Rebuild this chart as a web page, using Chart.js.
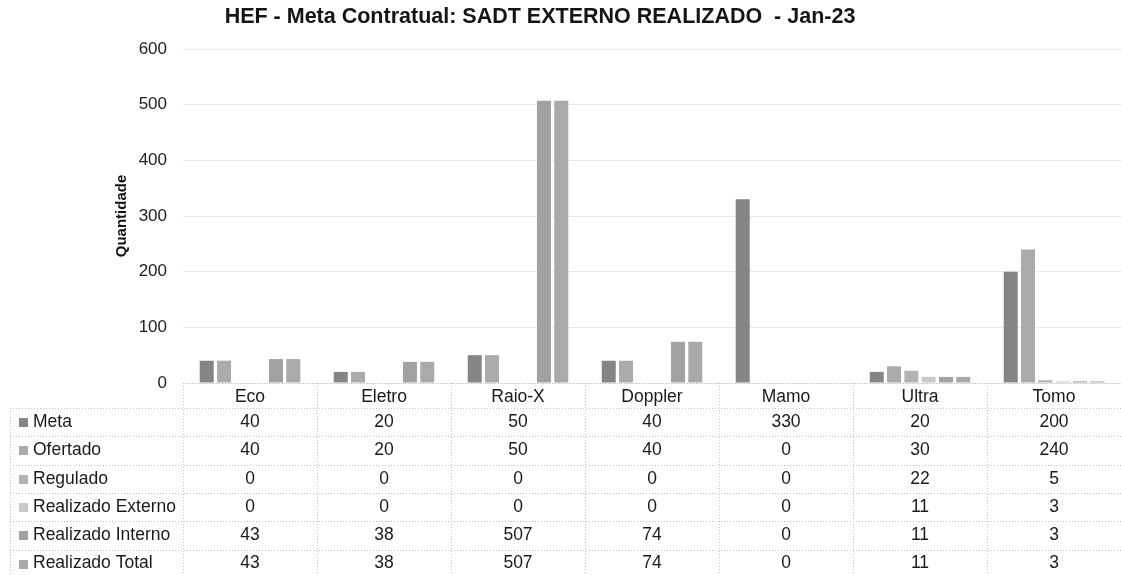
<!DOCTYPE html>
<html>
<head>
<meta charset="utf-8">
<title>HEF - Meta Contratual: SADT EXTERNO REALIZADO</title>
<script src="https://cdn.jsdelivr.net/npm/chart.js@4.4.1/dist/chart.umd.min.js"></script>
<style>
  html, body { margin: 0; padding: 0; background: #fff; }
  #chart { display: block; }
</style>
</head>
<body>
<canvas id="chart" width="1121" height="575"></canvas>
<script>
var categories = ['Eco', 'Eletro', 'Raio-X', 'Doppler', 'Mamo', 'Ultra', 'Tomo'];
var meta             = [40, 20, 50, 40, 330, 20, 200];
var ofertado         = [40, 20, 50, 40, 0, 30, 240];
var regulado         = [0, 0, 0, 0, 0, 22, 5];
var realizadoExterno = [0, 0, 0, 0, 0, 11, 3];
var realizadoInterno = [43, 38, 507, 74, 0, 11, 3];
var realizadoTotal   = [43, 38, 507, 74, 0, 11, 3];
var yTicks = [0, 100, 200, 300, 400, 500, 600];

var seriesNames = ['Meta', 'Ofertado', 'Regulado', 'Realizado Externo', 'Realizado Interno', 'Realizado Total'];
var seriesData = [meta, ofertado, regulado, realizadoExterno, realizadoInterno, realizadoTotal];
var seriesColors = ['#858585', '#ababab', '#b3b3b3', '#c9c9c9', '#a2a2a2', '#aaaaaa'];

var TITLE = 'HEF - Meta Contratual: SADT EXTERNO REALIZADO  - Jan-23';
var FONT = "Arial, 'Liberation Sans', sans-serif";
Chart.defaults.font.family = FONT;

// title sits a bit left of the canvas centre in the original
var chartTitle = {
  id: 'chartTitle',
  afterDraw: function(chart) {
    var ctx = chart.ctx;
    ctx.save();
    ctx.font = 'bold 21.5px ' + FONT;
    ctx.fillStyle = '#151515';
    ctx.textAlign = 'center';
    ctx.textBaseline = 'middle';
    ctx.fillText(TITLE, 540, 17);
    ctx.restore();
  }
};

// data table under the plot, columns follow the x scale
var dataTable = {
  id: 'dataTable',
  afterDraw: function(chart) {
    var ctx = chart.ctx, xs = chart.scales.x, area = chart.chartArea;
    var n = categories.length;
    var colW = (area.right - area.left) / n;
    var headH = 25, rowH = 28.3;
    var top = area.bottom;
    var legendLeft = 10;

    function line(x1, y1, x2, y2) {
      ctx.beginPath(); ctx.moveTo(x1, y1); ctx.lineTo(x2, y2); ctx.stroke();
    }

    ctx.save();
    ctx.strokeStyle = '#c2c2c2';
    ctx.lineWidth = 1;
    ctx.setLineDash([1, 2]);
    line(area.left, Math.round(top) + 0.5, area.right, Math.round(top) + 0.5);
    for (var r = 0; r < seriesNames.length; r++) {
      var yy = Math.round(top + headH + r * rowH) + 0.5;
      line(legendLeft, yy, area.right, yy);
    }
    line(legendLeft + 0.5, top + headH, legendLeft + 0.5, chart.height);
    for (var i = 0; i <= n; i++) {
      var xx = Math.round(area.left + i * colW) + 0.5;
      line(xx, top, xx, chart.height);
    }
    ctx.setLineDash([]);

    ctx.font = '17.5px ' + FONT;
    ctx.textBaseline = 'middle';
    for (var k = 0; k < seriesNames.length; k++) {
      var cy = top + headH + (k + 0.5) * rowH;
      ctx.fillStyle = seriesColors[k];
      ctx.fillRect(legendLeft + 9, Math.round(cy) - 4, 9, 9);
      ctx.fillStyle = '#1a1a1a';
      ctx.textAlign = 'left';
      ctx.fillText(seriesNames[k], legendLeft + 23, cy);
      ctx.textAlign = 'center';
      for (var j = 0; j < n; j++) {
        ctx.fillText(String(seriesData[k][j]), xs.getPixelForValue(j), cy);
      }
    }
    ctx.restore();
  }
};

new Chart(document.getElementById('chart'), {
  type: 'bar',
  data: {
    labels: categories,
    datasets: seriesNames.map(function(name, k) {
      return {
        label: name,
        data: seriesData[k],
        backgroundColor: seriesColors[k],
        barPercentage: 0.81,
        categoryPercentage: 0.775
      };
    })
  },
  options: {
    responsive: false,
    animation: false,
    layout: { padding: { top: 49, left: 0, right: 0, bottom: 0 } },
    plugins: {
      legend: { display: false },
      tooltip: { enabled: false },
      title: { display: false }
    },
    scales: {
      x: {
        grid: { display: false },
        border: { display: false },
        ticks: { color: '#1a1a1a', font: { size: 17.5 }, padding: -4, maxRotation: 0 },
        afterFit: function(s) { s.height = 192; }
      },
      y: {
        min: 0,
        max: 600,
        afterBuildTicks: function(axis) {
          axis.ticks = yTicks.map(function(v) { return { value: v }; });
        },
        grid: { color: '#ebebeb', drawTicks: false },
        border: { display: false },
        ticks: { color: '#222', font: { size: 17 }, padding: 16 },
        title: {
          display: true,
          text: 'Quantidade',
          color: '#111',
          font: { size: 15, weight: 'bold' },
          padding: { top: 113, bottom: 0 }
        },
        afterFit: function(s) { s.width = 183; }
      }
    }
  },
  plugins: [dataTable, chartTitle]
});
</script>
</body>
</html>
